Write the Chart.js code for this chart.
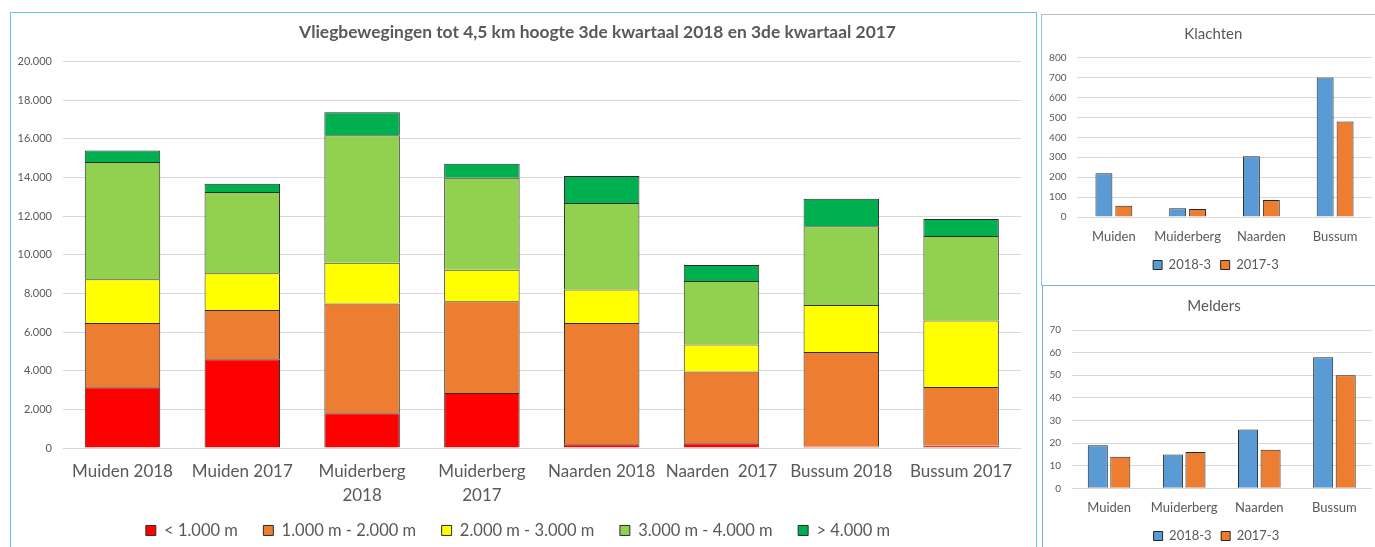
<!DOCTYPE html>
<html><head><meta charset="utf-8">
<script src="https://cdn.jsdelivr.net/npm/chart.js@4.4.1/dist/chart.umd.min.js"></script>
<style>
html,body{margin:0;padding:0;background:#fff;overflow:hidden;width:1375px;height:547px;}
.frame{position:absolute;box-sizing:border-box;pointer-events:none;}
canvas{position:absolute;}
</style></head><body>
<div class="frame" style="left:10px;top:12px;width:1027px;height:560px;border:1px solid #5cc6f2;"></div>
<div class="frame" style="left:1041px;top:14px;width:360px;height:272px;border:1px solid #bfbfbf;border-left-color:#9dbbe0;"></div>
<div class="frame" style="left:1042px;top:285px;width:360px;height:300px;border:1px solid #79aee0;"></div>
<canvas id="main" width="1026" height="549" style="left:10px;top:12px"></canvas>
<canvas id="klachten" width="333" height="270" style="left:1042px;top:15px"></canvas>
<canvas id="melders" width="332" height="270" style="left:1043px;top:286px"></canvas>
<script>
// ---- data ----
const categories = ['Muiden 2018', 'Muiden 2017', ['Muiderberg', '2018'], ['Muiderberg', '2017'], 'Naarden 2018', 'Naarden  2017', 'Bussum 2018', 'Bussum 2017'];
const seriesNames = ['< 1.000 m', '1.000 m - 2.000 m', '2.000 m - 3.000 m', '3.000 m - 4.000 m', '> 4.000 m'];
const below1000 = [3150, 4600, 1800, 2850, 190, 240, 70, 120];
const from1000to2000 = [3320, 2540, 5680, 4750, 6280, 3720, 4900, 3040];
const from2000to3000 = [2270, 1910, 2110, 1630, 1730, 1400, 2430, 3440];
const from3000to4000 = [6060, 4200, 6600, 4760, 4480, 3280, 4080, 4380];
const above4000 = [600, 430, 1190, 720, 1400, 830, 1420, 880];

const towns = ['Muiden', 'Muiderberg', 'Naarden', 'Bussum'];
const periodNames = ['2018-3', '2017-3'];
const klachten2018 = [220, 44, 305, 700];
const klachten2017 = [57, 40, 86, 480];
const melders2018 = [19, 15, 26, 58];
const melders2017 = [14, 16, 17, 50];

const mainTitle = 'Vliegbewegingen tot 4,5 km hoogte 3de kwartaal 2018 en 3de kwartaal 2017';

// ---- style ----
const GREY = '#595959';
const GRID = '#d9d9d9';
const stackColors = ['#FF0000', '#ED7D31', '#FFFF00', '#92D050', '#00B050'];
const pairColors = ['#5B9BD5', '#ED7D31'];

Chart.defaults.font.family = "Lato, 'Open Sans', sans-serif";
Chart.defaults.color = GREY;
Chart.defaults.animation = false;

function fmt(v) { return String(v).replace(/\B(?=(\d{3})+(?!\d))/g, '.'); }

const shiftBoxes = {
  id: 'shiftBoxes',
  afterLayout(chart, args, opts) {
    const t = chart.titleBlock, l = chart.legend;
    if (t && opts.titleDx) { t.left += opts.titleDx; t.right += opts.titleDx; }
    if (l && opts.legendDx) { l.left += opts.legendDx; l.right += opts.legendDx; }
    if (l && opts.legendDy) { l.top += opts.legendDy; l.bottom += opts.legendDy; }
  }
};

// ---- main stacked chart ----
const stackSeries = [below1000, from1000to2000, from2000to3000, from3000to4000, above4000];
new Chart(document.getElementById('main'), {
  type: 'bar',
  data: {
    labels: categories,
    datasets: stackSeries.map((d, i) => ({
      label: seriesNames[i],
      data: d,
      backgroundColor: stackColors[i],
      borderColor: '#2b2b2b',
      borderWidth: 1,
      barPercentage: 0.63,
      categoryPercentage: 1
    }))
  },
  plugins: [shiftBoxes],
  options: {
    responsive: false,
    layout: { padding: { left: 0, right: 15, top: 0, bottom: 0 } },
    plugins: {
      shiftBoxes: { titleDx: 82, legendDx: 2.5, legendDy: -12.3 },
      tooltip: { enabled: false },
      title: {
        display: true, text: mainTitle, color: GREY,
        font: { size: 17.4, weight: 'bold', lineHeight: 1.2 },
        padding: { top: 9.5, bottom: 19.3 }
      },
      legend: {
        position: 'bottom',
        labels: { boxWidth: 10, boxHeight: 10, padding: 25.5, color: GREY, font: { size: 16.5 } }
      }
    },
    scales: {
      x: {
        stacked: true,
        grid: { display: false, drawTicks: false },
        border: { display: false },
        ticks: { color: GREY, font: { size: 17, lineHeight: 1.376 }, padding: 12.3, autoSkip: false, maxRotation: 0, minRotation: 0 },
        afterFit(s) { s.height = 61; }
      },
      y: {
        stacked: true, min: 0, max: 20000,
        grid: { color: GRID, drawTicks: false },
        border: { display: false },
        ticks: { stepSize: 2000, color: GREY, font: { size: 11 }, padding: 10.6, callback: v => fmt(v) },
        afterFit(s) { s.width = 52.6; }
      }
    }
  }
});

// ---- small grouped charts ----
function smallChart(id, title, a, b, yMax, step, yWidth, cat, bar, tPad, xPad, xH, dx) {
  return new Chart(document.getElementById(id), {
    type: 'bar',
    data: {
      labels: towns,
      datasets: [a, b].map((d, i) => ({
        label: periodNames[i],
        data: d,
        backgroundColor: pairColors[i],
        borderColor: '#262626',
        borderWidth: 1,
        barPercentage: bar,
        categoryPercentage: cat
      }))
    },
    plugins: [shiftBoxes],
    options: {
      responsive: false,
      layout: { padding: { left: 0, right: 3, top: 0, bottom: 3.5 } },
      plugins: {
        shiftBoxes: dx,
        tooltip: { enabled: false },
        title: { display: true, text: title, color: GREY, font: { size: 15, weight: 'normal', lineHeight: 1.2 }, padding: tPad },
        legend: {
          position: 'bottom',
          labels: { boxWidth: 9, boxHeight: 9, padding: 9.5, color: GREY, font: { size: 13 } }
        }
      },
      scales: {
        x: {
          grid: { display: false, drawTicks: false },
          border: { display: false },
          ticks: { color: GREY, font: { size: 13, lineHeight: 1.2 }, padding: xPad, autoSkip: false, maxRotation: 0 },
          afterFit(s) { s.height = xH; }
        },
        y: {
          min: 0, max: yMax,
          grid: { color: GRID, drawTicks: false },
          border: { display: false },
          ticks: { stepSize: step, color: GREY, font: { size: 10 }, padding: 10.5 },
          afterFit(s) { s.width = yWidth; }
        }
      }
    }
  });
}

smallChart('klachten', 'Klachten', klachten2018, klachten2017, 800, 100, 35, 0.54, 0.85,
  { top: 10.3, bottom: 14.4 }, 11.9, 32, { titleDx: 6.3, legendDx: 8.9 });
smallChart('melders', 'Melders', melders2018, melders2017, 70, 10, 28.5, 0.6, 0.89,
  { top: 11, bottom: 15 }, 11.6, 31.7, { titleDx: 6.5, legendDx: 8.9 });
</script>
</body></html>
